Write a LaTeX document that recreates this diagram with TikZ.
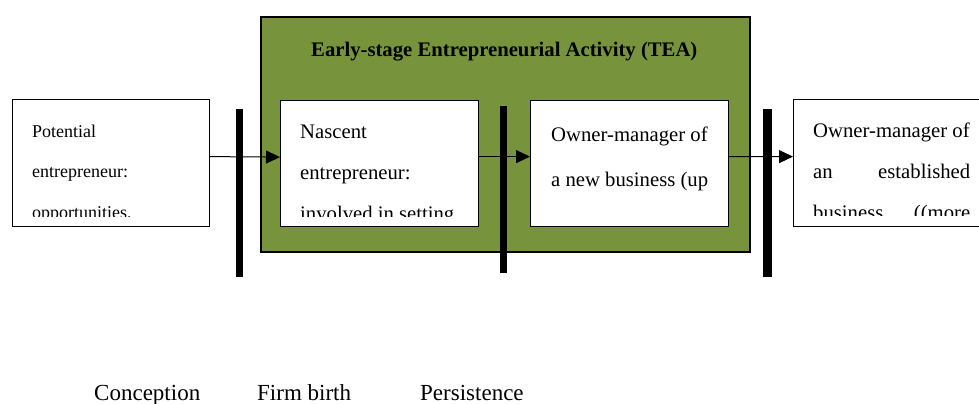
\documentclass[tikz,border=0pt]{standalone}
\usepackage{fontspec}
\setmainfont{Liberation Serif}
\usetikzlibrary{arrows.meta}
\definecolor{teagreen}{HTML}{77933C}
\begin{document}
\begin{tikzpicture}[x=1bp,y=-1bp,
  box/.style={draw=black, line width=1.2bp, fill=white, inner sep=0pt, anchor=north west},
  teabox/.style={draw=black, line width=1.5bp, fill=teagreen, inner sep=0pt, anchor=north west},
  barline/.style={line width=7.5bp},
  conn/.style={line width=1bp, -{Triangle[length=14bp,width=13bp]}},
  txt/.style={anchor=base west, inner sep=0pt, font=\fontsize{20.7bp}{24bp}\selectfont},
  smalltxt/.style={anchor=base west, inner sep=0pt, font=\fontsize{18bp}{22bp}\selectfont},
  title/.style={anchor=base west, inner sep=0pt, font=\fontsize{20.7bp}{24bp}\selectfont\bfseries},
  stagetxt/.style={anchor=base west, inner sep=0pt, font=\fontsize{23bp}{27bp}\selectfont},
]
\useasboundingbox (0,0) rectangle (979,403);
\clip (0,0) rectangle (979,403);

% TEA frame
\node[teabox, minimum width=489bp, minimum height=235bp] (tea) at (260,16) {};
\node[title] (teatitle) at (311,56) {Early-stage Entrepreneurial Activity (TEA)};

% boxes
\node[box, minimum width=197bp, minimum height=127bp] (pot) at (12,99) {};
\node[box, minimum width=198bp, minimum height=126bp] (nasc) at (280,100) {};
\node[box, minimum width=198bp, minimum height=126bp] (newb) at (530,100) {};
\node[box, minimum width=230bp, minimum height=127bp] (estb) at (793,99) {};

% texts (clipped to text frames)
\begin{scope}
  \clip (14,101) rectangle (207,216.5);
  \node[smalltxt] (pot1) at (32,137) {Potential};
  \node[smalltxt] (pot2) at (32,177.5) {entrepreneur:};
  \node[smalltxt] (pot3) at (32,218.5) {opportunities,};
\end{scope}
\begin{scope}
  \clip (282,102) rectangle (476,216);
  \node[txt] (nasc1) at (300,138) {Nascent};
  \node[txt] (nasc2) at (300,179) {entrepreneur:};
  \node[txt] (nasc3) at (300,220) {involved in setting};
\end{scope}
\begin{scope}
  \clip (532,102) rectangle (726,216);
  \node[txt] (newb1) at (551,141) {Owner-manager of};
  \node[txt] (newb2) at (551,186.7) {a new business (up};
\end{scope}
\begin{scope}
  \clip (795,101) rectangle (979,215.5);
  \node[txt] (estb1) at (813,137.7) {Owner-manager of};
  \node[txt] (estb2) at (813,178.3) {\makebox[157bp][s]{an established}};
  \node[txt] (estb3) at (813,219) {\makebox[157bp][s]{business ((more}};
\end{scope}

% connectors
\draw[conn] ([yshift=6.5bp]pot.east) -- ([yshift=6.5bp]nasc.west);
\draw[conn] ([yshift=7bp]nasc.east) -- ([yshift=7bp]newb.west);
\draw[conn] ([yshift=7bp]newb.east) -- ([yshift=6.5bp]estb.west);

% stage bars
\coordinate (b1t) at (239.7,109);
\coordinate (b1b) at (239.7,277);
\coordinate (b2t) at (503.5,106);
\coordinate (b2b) at (503.5,273);
\coordinate (b3t) at (767.3,109);
\coordinate (b3b) at (767.3,277);
\draw[barline] (b1t) -- (b1b);
\draw[barline] (b2t) -- (b2b);
\draw[barline, line width=8.5bp] (b3t) -- (b3b);

% stage labels
\node[stagetxt] (conc) at (94,400) {Conception};
\node[stagetxt] (birth) at (257,400) {Firm birth};
\node[stagetxt] (pers) at (420,400) {Persistence};
\end{tikzpicture}
\end{document}
